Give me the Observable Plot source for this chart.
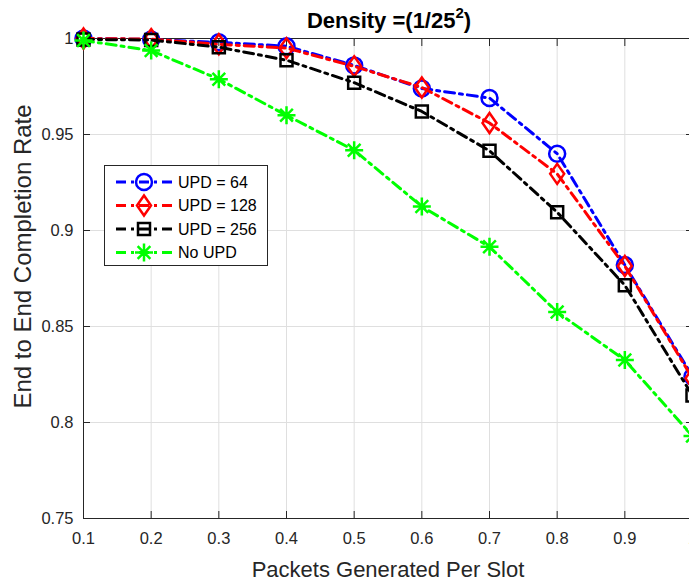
<!DOCTYPE html>
<html><head><meta charset="utf-8">
<script src="https://cdn.jsdelivr.net/npm/d3@7"></script>
<script src="https://cdn.jsdelivr.net/npm/@observablehq/plot@0.6"></script>
<style>
body{margin:0;background:#fff;}
#chart{position:relative;width:689px;height:584px;overflow:hidden;}
</style>
</head><body><div id="chart"></div>
<script>
// ---- data ----
const packets = [0.1, 0.2, 0.3, 0.4, 0.5, 0.6, 0.7, 0.8, 0.9, 1.0];
const upd64  = [1.000, 0.9995, 0.998, 0.996, 0.986, 0.974, 0.969, 0.940, 0.882, 0.824];
const upd128 = [1.000, 0.9997, 0.997, 0.995, 0.9855, 0.9745, 0.956, 0.9295, 0.8815, 0.823];
const upd256 = [0.9995, 0.9992, 0.9955, 0.9887, 0.977, 0.962, 0.9415, 0.9095, 0.8715, 0.814];
const noUPD  = [0.999, 0.9937, 0.9788, 0.960, 0.9418, 0.9125, 0.8915, 0.8575, 0.8325, 0.793];
const seriesNames  = ["UPD = 64", "UPD = 128", "UPD = 256", "No UPD"];
const seriesValues = [upd64, upd128, upd256, noUPD];
const seriesColors = ["#0000ff", "#ff0000", "#000000", "#00ff00"];
const xTicks = [0.1, 0.2, 0.3, 0.4, 0.5, 0.6, 0.7, 0.8, 0.9, 1.0];
const xTickLabels = ["0.1", "0.2", "0.3", "0.4", "0.5", "0.6", "0.7", "0.8", "0.9", "1"];
const yTicks = [0.75, 0.8, 0.85, 0.9, 0.95, 1];
const yTickLabels = ["0.75", "0.8", "0.85", "0.9", "0.95", "1"];
const titleMain = "Density =(1/25", titleSup = "2", titleEnd = ")";
const xLabel = "Packets Generated Per Slot";
const yLabel = "End to End Completion Rate";

// ---- marker shapes (MATLAB-like) ----
const symCircle = {draw(c){ c.moveTo(8,0); c.arc(0,0,8,0,2*Math.PI); c.closePath(); }};
const symDiamond = {draw(c){ c.moveTo(0,-10); c.lineTo(7,0); c.lineTo(0,10); c.lineTo(-7,0); c.closePath(); }};
const symSquare = {draw(c){ c.moveTo(-6,-6); c.lineTo(6,-6); c.lineTo(6,6); c.lineTo(-6,6); c.closePath(); }};
const symAsterisk = {draw(c){ const r=9; for (const a of [0,45,90,135]) { const t=a*Math.PI/180; c.moveTo(r*Math.cos(t), r*Math.sin(t)); c.lineTo(-r*Math.cos(t), -r*Math.sin(t)); } }};
const seriesSymbols = [symCircle, symDiamond, symSquare, symAsterisk];

const rows = seriesValues.map(vals => packets.map((x, i) => ({x, y: vals[i]})));
const dash = "10,5,3,5";
const axisColor = "#262626";
const gridColor = "#dfdfdf";
const font = "'Liberation Sans', Arial, sans-serif";

const marks = [
  Plot.gridX(xTicks, {stroke: gridColor, strokeOpacity: 1}),
  Plot.gridY(yTicks, {stroke: gridColor, strokeOpacity: 1}),
  Plot.frame({stroke: axisColor, strokeWidth: 1}),
  Plot.axisX(xTicks, {anchor: "bottom", tickSize: -7, tickPadding: 21, label: null, fontSize: 16.5, stroke: axisColor, fill: axisColor,
    tickFormat: d => xTickLabels[xTicks.indexOf(d)]}),
  Plot.axisX(xTicks, {anchor: "top", tickSize: -7, label: null, tickFormat: () => "", stroke: axisColor}),
  Plot.axisY(yTicks, {anchor: "left", tickSize: -7, tickPadding: 17, label: null, fontSize: 16.5, stroke: axisColor, fill: axisColor,
    tickFormat: d => yTickLabels[yTicks.indexOf(d)]}),
  Plot.axisY(yTicks, {anchor: "right", tickSize: -7, label: null, tickFormat: () => "", stroke: axisColor}),
  Plot.text([xLabel], {frameAnchor: "bottom", lineAnchor: "middle", textAnchor: "middle", dy: 51, text: d => d, fontSize: 22, fill: axisColor}),
  Plot.text([yLabel], {frameAnchor: "left", lineAnchor: "middle", textAnchor: "middle", dx: -60, dy: -22, rotate: -90, text: d => d, fontSize: 24, fill: axisColor})
];
seriesValues.forEach((vals, k) => {
  marks.push(Plot.line(rows[k], {x: "x", y: "y", stroke: seriesColors[k], strokeWidth: 3, strokeDasharray: dash}));
  marks.push(Plot.dot(rows[k], {x: "x", y: "y", stroke: seriesColors[k], strokeWidth: 2.5, fill: "none", symbol: seriesSymbols[k]}));
});

const chart = Plot.plot({
  width: 689, height: 584,
  marginLeft: 83, marginRight: -3, marginTop: 38, marginBottom: 66,
  x: {domain: [0.1, 1]},
  y: {domain: [0.75, 1]},
  style: {fontFamily: font, fontSize: "16.5px", color: axisColor, background: "#fff"},
  marks
});
document.getElementById("chart").appendChild(chart);

// ---- title & legend ----
const svg = d3.select(chart);
const title = svg.append("text").attr("x", 389).attr("y", 28).attr("text-anchor", "middle")
  .attr("font-family", font).attr("font-weight", "bold").attr("font-size", 22).attr("fill", "#000");
title.append("tspan").text(titleMain);
title.append("tspan").attr("dy", -10).attr("font-size", 15).text(titleSup);
title.append("tspan").attr("dy", 10).text(titleEnd);

const lg = svg.append("g");
lg.append("rect").attr("x", 104.5).attr("y", 165.5).attr("width", 163).attr("height", 100)
  .attr("fill", "#fff").attr("stroke", axisColor).attr("stroke-width", 1);
seriesNames.forEach((name, k) => {
  const cy = 182 + k * 23.5;
  lg.append("line").attr("x1", 116).attr("x2", 172).attr("y1", cy).attr("y2", cy)
    .attr("stroke", seriesColors[k]).attr("stroke-width", 3).attr("stroke-dasharray", dash);
  lg.append("path").attr("transform", `translate(144,${cy})`).attr("d", d3.symbol(seriesSymbols[k])())
    .attr("fill", "none").attr("stroke", seriesColors[k]).attr("stroke-width", 2.5);
  lg.append("text").attr("x", 178).attr("y", cy).attr("dy", "0.35em").attr("text-anchor", "start")
    .attr("font-family", font).attr("font-size", 16).attr("fill", "#000").text(name);
});
</script>
</body></html>
